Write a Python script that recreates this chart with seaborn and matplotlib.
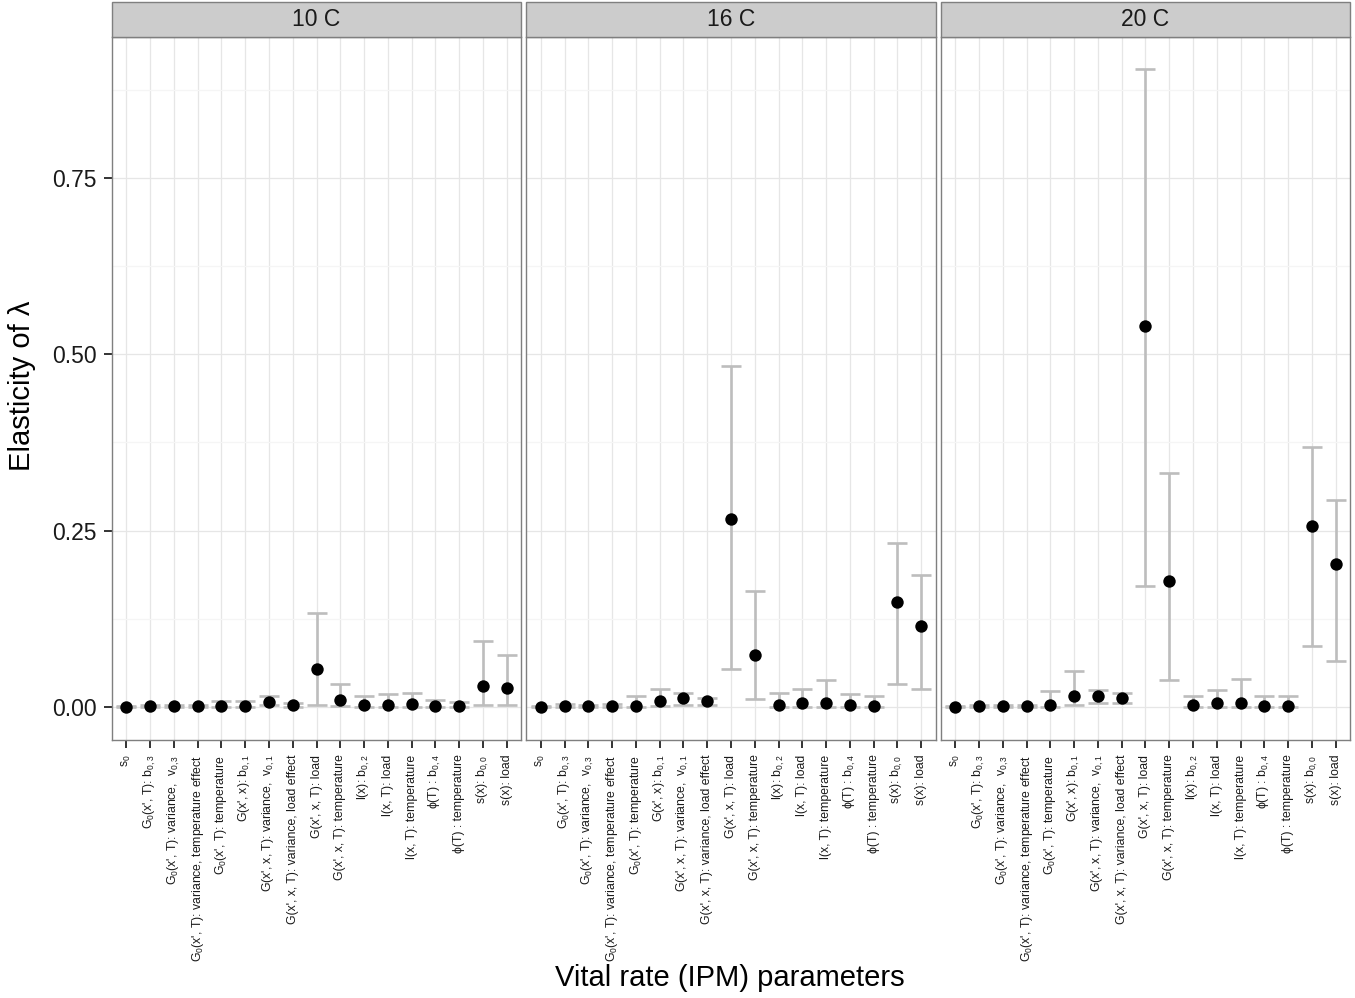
import numpy as np
import pandas as pd
import matplotlib
matplotlib.use("Agg")
import matplotlib.pyplot as plt
from matplotlib.patches import Rectangle
import seaborn as sns

# ---------------- data ----------------
categories = [
    r"s$_0$",
    r"G$_0$(x', T): b$_{0,3}$",
    r"G$_0$(x', T): variance,  v$_{0,3}$",
    r"G$_0$(x', T): variance, temperature effect",
    r"G$_0$(x', T): temperature",
    r"G(x', x): b$_{0,1}$",
    r"G(x', x, T): variance,  v$_{0,1}$",
    r"G(x', x, T): variance, load effect",
    r"G(x', x, T): load",
    r"G(x', x, T): temperature",
    r"l(x): b$_{0,2}$",
    r"l(x, T): load",
    r"l(x, T): temperature",
    r"ϕ(T) : b$_{0,4}$",
    r"ϕ(T) : temperature",
    r"s(x): b$_{0,0}$",
    r"s(x): load",
]
temperatures = ["10 C", "16 C", "20 C"]

mean10 = [0.000, 0.001, 0.001, 0.001, 0.001, 0.001, 0.007, 0.002, 0.054, 0.010, 0.003, 0.003, 0.004, 0.001, 0.001, 0.029, 0.027]
lo10   = [0.000, 0.000, 0.000, 0.000, 0.000, 0.000, 0.003, 0.000, 0.003, 0.001, 0.000, 0.000, 0.000, 0.000, 0.000, 0.003, 0.002]
hi10   = [0.001, 0.002, 0.002, 0.003, 0.008, 0.008, 0.015, 0.005, 0.133, 0.033, 0.016, 0.018, 0.020, 0.010, 0.007, 0.094, 0.074]

mean16 = [0.000, 0.001, 0.001, 0.001, 0.001, 0.008, 0.012, 0.008, 0.266, 0.073, 0.003, 0.006, 0.006, 0.002, 0.001, 0.149, 0.115]
lo16   = [0.000, 0.000, 0.000, 0.000, 0.000, 0.001, 0.003, 0.002, 0.053, 0.011, 0.000, 0.000, 0.000, 0.000, 0.000, 0.032, 0.025]
hi16   = [0.001, 0.004, 0.002, 0.004, 0.015, 0.026, 0.020, 0.013, 0.484, 0.165, 0.020, 0.026, 0.038, 0.018, 0.015, 0.233, 0.187]

mean20 = [0.000, 0.001, 0.001, 0.001, 0.002, 0.016, 0.016, 0.013, 0.540, 0.178, 0.003, 0.006, 0.006, 0.001, 0.001, 0.256, 0.202]
lo20   = [0.000, 0.000, 0.000, 0.000, 0.000, 0.003, 0.005, 0.005, 0.171, 0.038, 0.000, 0.000, 0.000, 0.000, 0.000, 0.086, 0.065]
hi20   = [0.001, 0.003, 0.002, 0.003, 0.022, 0.051, 0.024, 0.020, 0.905, 0.331, 0.015, 0.024, 0.040, 0.015, 0.015, 0.368, 0.294]

y_ticks = [0.0, 0.25, 0.5, 0.75]
y_ticklabels = ["0.00", "0.25", "0.50", "0.75"]

# ---------------- table ----------------
frames = []
for t, m, lo, hi in zip(temperatures, [mean10, mean16, mean20], [lo10, lo16, lo20], [hi10, hi16, hi20]):
    frames.append(pd.DataFrame({
        "param": categories,
        "pos": np.arange(len(categories)),
        "mean": m, "lo": lo, "hi": hi, "temp": t,
    }))
df = pd.concat(frames, ignore_index=True)

# ---------------- style ----------------
sns.set_theme(style="white")
plt.rcParams["font.family"] = ["Liberation Sans", "DejaVu Sans"]
plt.rcParams["mathtext.fontset"] = "custom"
plt.rcParams["mathtext.rm"] = "Liberation Sans"
plt.rcParams["mathtext.it"] = "Liberation Sans:italic"
plt.rcParams["mathtext.bf"] = "Liberation Sans:bold"
plt.rcParams["mathtext.default"] = "regular"

W, H = 1355, 998
g = sns.FacetGrid(df, col="temp", col_order=temperatures, sharex=True, sharey=True,
                  height=7, aspect=0.6, despine=False)


def draw(data, **kw):
    ax = plt.gca()
    ax.errorbar(data["pos"], data["mean"],
                yerr=[data["mean"] - data["lo"], data["hi"] - data["mean"]],
                fmt="none", ecolor="#BDBDBD", elinewidth=1.9, capsize=7.3, capthick=1.9, zorder=2)
    sns.scatterplot(data=data, x="pos", y="mean", color="black", s=80,
                    edgecolor="black", linewidth=0, ax=ax, zorder=3)


g.map_dataframe(draw)

fig = g.figure
fig.set_size_inches(W / 100, H / 100)
fig.set_dpi(100)
fig.patch.set_facecolor("white")

strip_h = 35 / 703
n = len(categories)
for i, (ax, t) in enumerate(zip(g.axes.flat, temperatures)):
    ax.set_xlim(-0.6, n - 1 + 0.6)
    ax.set_ylim(-0.047, 0.950)
    ax.set_facecolor("white")
    ax.set_xticks(np.arange(n))
    ax.set_xticklabels(categories, rotation=90, ha="center", va="top", fontsize=8.8, color="#1a1a1a")
    ax.set_yticks(y_ticks)
    ax.set_yticks([0.125, 0.375, 0.625, 0.875], minor=True)
    ax.grid(True, which="major", color="#E6E6E6", linewidth=0.9, zorder=0)
    ax.grid(True, which="minor", axis="y", color="#F5F5F5", linewidth=0.9, zorder=0)
    ax.set_axisbelow(True)
    for sp in ax.spines.values():
        sp.set_color("#7F7F7F")
        sp.set_linewidth(1.0)
    ax.tick_params(axis="x", which="major", length=5.5, width=1.4, color="#333333", pad=5, bottom=True)
    ax.tick_params(axis="y", which="minor", length=0)
    if i == 0:
        ax.set_yticklabels(y_ticklabels, fontsize=16.5, color="#1a1a1a")
        ax.tick_params(axis="y", which="major", length=6, width=1.4, color="#333333", pad=5, left=True)
    else:
        ax.tick_params(axis="y", which="major", length=0, labelleft=False)
    ax.set_xlabel("")
    ax.set_ylabel("")
    ax.set_title("")
    ax.add_patch(Rectangle((0, 1), 1, strip_h, transform=ax.transAxes, clip_on=False,
                           facecolor="#CCCCCC", edgecolor="#7F7F7F", linewidth=1.0, zorder=5))
    ax.text(0.5, 1 + strip_h / 2, t, transform=ax.transAxes, ha="center", va="center",
            fontsize=16.5, color="#1a1a1a", zorder=6)

left, right, top, bottom = 112 / W, 1350 / W, 1 - 37 / H, 1 - 740 / H
fig.subplots_adjust(left=left, right=right, top=top, bottom=bottom, wspace=0.0134)

fig.text(730 / W, 1 - 978 / H, "Vital rate (IPM) parameters", ha="center", va="center",
         fontsize=21, color="black")
fig.text(22 / W, 1 - 386 / H, "Elasticity of λ", ha="center", va="center",
         rotation=90, fontsize=21, color="black")

fig.savefig("out.png", dpi=100, facecolor="white")
